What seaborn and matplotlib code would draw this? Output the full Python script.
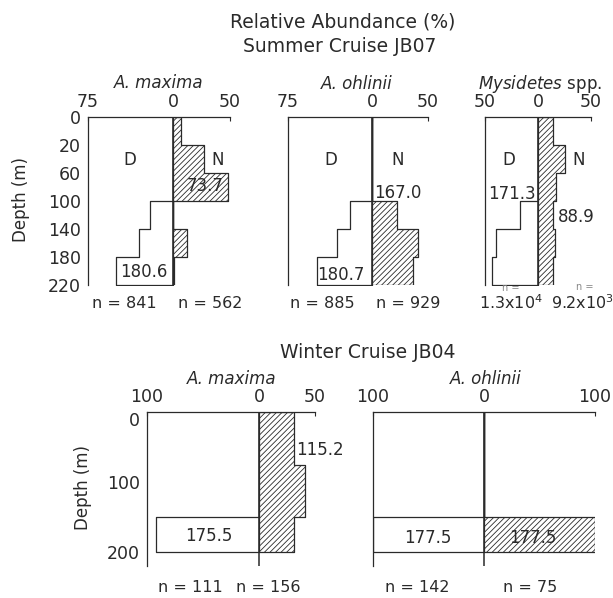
import numpy as np
import pandas as pd
import matplotlib
matplotlib.use("Agg")
import matplotlib.pyplot as plt
import seaborn as sns

# depth bins (m); summer depth axis is drawn with evenly spaced labelled depths
summer_edges = [0, 20, 60, 100, 140, 180, 220]
summer_ticks = [0, 20, 60, 100, 140, 180, 220]
winter_edges = [0, 75, 150, 200]
winter_ticks = [0, 100, 200]

# relative abundance (%) per depth bin: D = day (left of 0), N = night (right of 0)
maxima_summer_day = [0, 0, 0, 20, 30, 50]
maxima_summer_night = [7, 27, 48, 0, 12, 1]
ohlinii_summer_day = [0, 0, 0, 20, 31, 49]
ohlinii_summer_night = [0, 0, 0, 22, 41, 37]
mysid_summer_day = [0, 0, 0, 17, 40, 43]
mysid_summer_night = [14, 25, 17, 14, 16, 14]
maxima_winter_day = [0, 0, 92]
maxima_winter_night = [31, 41, 31]
ohlinii_winter_day = [0, 0, 100]
ohlinii_winter_night = [0, 0, 100]

# weighted mean depths and sample sizes
summer_means = {"maxima": ("180.6", "73.7"), "ohlinii": ("180.7", "167.0"), "mysid": ("171.3", "88.9")}
winter_means = {"maxima": ("175.5", "115.2"), "ohlinii": ("177.5", "177.5")}
summer_n = ["n = 841", "n = 562", "n = 885", "n = 929", "1.3x10$^4$", "9.2x10$^3$"]
winter_n = ["n = 111", "n = 156", "n = 142", "n = 75"]

INK = "#2a2a2a"
W, H = 613, 598
FS = 12

sns.set_style("white")
plt.rcParams["font.family"] = ["DejaVu Sans"]
plt.rcParams["hatch.linewidth"] = 0.6
plt.rcParams["hatch.color"] = INK

fig = plt.figure(figsize=(W / 100, H / 100), dpi=100)


def px_axes(x0, y0, x1, y1):
    return fig.add_axes([x0 / W, 1 - y1 / H, (x1 - x0) / W, (y1 - y0) / H])


def ftext(x, y, s, **kw):
    kw.setdefault("ha", "center")
    kw.setdefault("va", "center")
    kw.setdefault("color", INK)
    kw.setdefault("fontsize", FS)
    return fig.text(x / W, 1 - y / H, s, **kw)


def atext(ax, x, y, s, **kw):
    kw.setdefault("ha", "center")
    kw.setdefault("va", "center")
    ax.text(x, y, s, fontsize=FS, color=INK, **kw)


def profile(ax, edges, values, sign, hatch):
    mids = [(a + b) / 2 for a, b in zip(edges[:-1], edges[1:])]
    df = pd.DataFrame({"depth": mids, "pct": [sign * v for v in values]})
    sns.histplot(data=df, y="depth", weights="pct", bins=edges, element="step",
                 fill=True, ax=ax, facecolor="white", edgecolor=INK,
                 hatch=hatch, linewidth=0.9, alpha=1)


def setup(ax, xlo, xhi, xticks, yticks, ylabels, ymax, summer):
    if summer:
        pos = np.arange(len(summer_ticks))
        ax.set_yscale("function", functions=(lambda d: np.interp(d, summer_ticks, pos),
                                             lambda p: np.interp(p, pos, summer_ticks)))
    ax.set_xlim(xlo, xhi)
    ax.set_ylim(ymax, 0)
    ax.axvline(0, color=INK, lw=1.1)
    ax.xaxis.tick_top()
    ax.set_xticks(xticks)
    ax.set_xticklabels([str(abs(t)) for t in xticks])
    ax.set_yticks(yticks)
    ax.set_yticklabels(ylabels)
    ax.yaxis.set_minor_locator(matplotlib.ticker.NullLocator())
    ax.tick_params(axis="x", direction="in", length=3, pad=4,
                   labelsize=12.5, colors=INK)
    ax.tick_params(axis="y", direction="out", length=3, pad=2, labelsize=12.5, colors=INK)
    ax.set_xlabel("")
    ax.set_ylabel("")
    for side in ["right", "bottom"]:
        ax.spines[side].set_visible(False)
    for side in ["top", "left"]:
        ax.spines[side].set_color(INK)
        ax.spines[side].set_linewidth(0.9)
    ax.set_facecolor("none")


# ---- Summer cruise ----
summer_panels = [
    (88, 230, -75, 50, [-75, 0, 50], maxima_summer_day, maxima_summer_night, True),
    (288, 428, -75, 50, [-75, 0, 50], ohlinii_summer_day, ohlinii_summer_night, False),
    (485, 591, -50, 50, [-50, 0, 50], mysid_summer_day, mysid_summer_night, False),
]
summer_axes = []
for x0, x1, lo, hi, xt, day, night, lab in summer_panels:
    ax = px_axes(x0, 117, x1, 285)
    profile(ax, summer_edges, day, -1, None)
    profile(ax, summer_edges, night, 1, "//////")
    setup(ax, lo, hi, xt, summer_ticks, [str(t) for t in summer_ticks] if lab else [], 220, True)
    summer_axes.append(ax)

ax1, ax2, ax3 = summer_axes
# D / N tags and mean depths (data coordinates)
atext(ax1, -38, 42, "D")
atext(ax1, 39, 42, "N")
atext(ax1, -26, 202, summer_means["maxima"][0])
atext(ax1, 28, 78, summer_means["maxima"][1])
atext(ax2, -37, 42, "D")
atext(ax2, 23, 42, "N")
atext(ax2, -28, 205, summer_means["ohlinii"][0])
atext(ax2, 2, 88, summer_means["ohlinii"][1], ha="left")
atext(ax3, -28, 42, "D")
atext(ax3, 38, 42, "N")
atext(ax3, -25, 90, summer_means["mysid"][0])
atext(ax3, 36, 123, summer_means["mysid"][1])

ftext(343, 22, "Relative Abundance (%)", fontsize=13.5)
ftext(340, 47, "Summer Cruise JB07", fontsize=13.5)
ftext(159, 83, "A. maxima", style="italic")
ftext(357, 84, "A. ohlinii", style="italic")
ftext(540, 84, r"$\it{Mysidetes}$ spp.")
ftext(21, 199, "Depth (m)", rotation=90)
for x, s in zip([124, 210, 322, 408, 511, 582], summer_n):
    ftext(x, 303, s, fontsize=11.5)
ftext(511, 288, "n =", fontsize=7, color="#888888")
ftext(585, 287, "n =", fontsize=7, color="#888888")

# ---- Winter cruise ----
winter_panels = [
    (147, 315, -100, 50, [-100, 0, 50], maxima_winter_day, maxima_winter_night, True),
    (373, 595, -100, 100, [-100, 0, 100], ohlinii_winter_day, ohlinii_winter_night, False),
]
winter_axes = []
for x0, x1, lo, hi, xt, day, night, lab in winter_panels:
    ax = px_axes(x0, 412, x1, 566)
    profile(ax, winter_edges, day, -1, None)
    profile(ax, winter_edges, night, 1, "//////")
    setup(ax, lo, hi, xt, winter_ticks, [str(t) for t in winter_ticks] if lab else [], 220, False)
    winter_axes.append(ax)

wx1, wx2 = winter_axes
wx2.tick_params(axis="y", direction="in")
# the surface label sits just under the top axis, below the "100" tick label
wx1.get_yticklabels()[0].set_verticalalignment("top")
atext(wx1, -45, 177, winter_means["maxima"][0])
atext(wx1, 33, 54, winter_means["maxima"][1], ha="left")
atext(wx2, -51, 180, winter_means["ohlinii"][0])
atext(wx2, 44, 180, winter_means["ohlinii"][1])

ftext(368, 352, "Winter Cruise JB04", fontsize=13.5)
ftext(232, 379, "A. maxima", style="italic")
ftext(486, 379, "A. ohlinii", style="italic")
ftext(83, 487, "Depth (m)", rotation=90)
for x, s in zip([190, 268, 417, 530], winter_n):
    ftext(x, 588, s, fontsize=11.5)

fig.savefig("out.png", dpi=100)
